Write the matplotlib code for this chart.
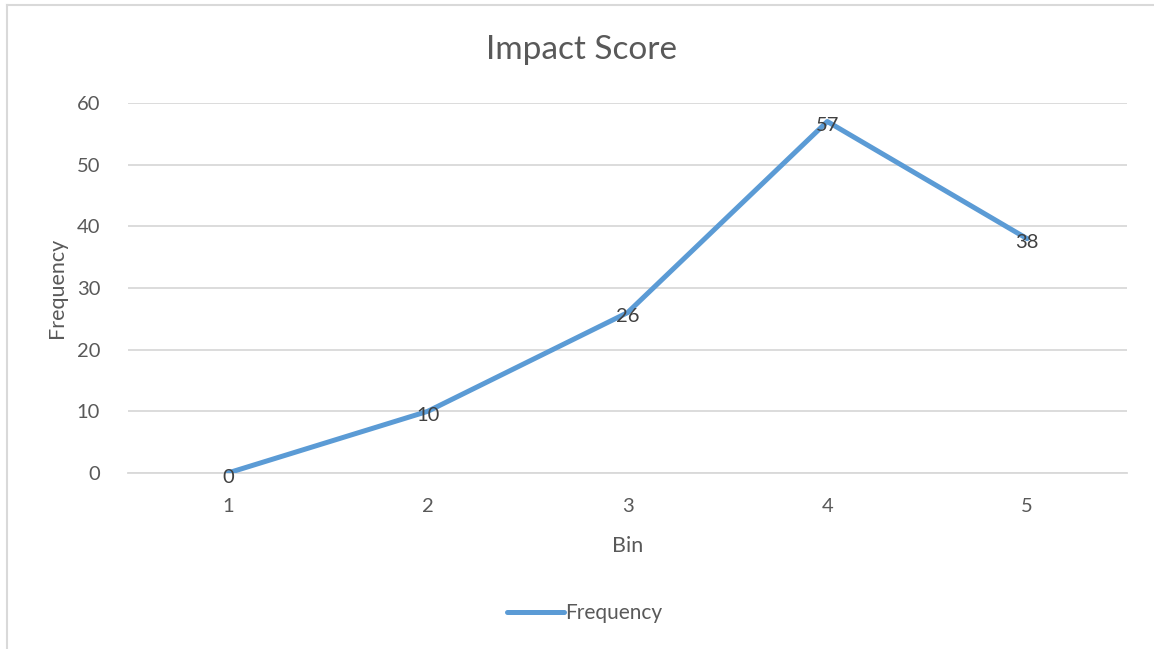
import matplotlib
matplotlib.use("Agg")
import matplotlib.pyplot as plt
from matplotlib.lines import Line2D

# chart data
bins = [1, 2, 3, 4, 5]
frequency = [0, 10, 26, 57, 38]
y_ticks = [0, 10, 20, 30, 40, 50, 60]

line_col = "#5B9BD5"
grid_col = "#D9D9D9"
text_col = "#595959"

plt.rcParams["font.family"] = ["Lato", "DejaVu Sans"]

W, H = 1154, 649
fig = plt.figure(figsize=(W / 100, H / 100), dpi=100)
ax = fig.add_axes([128 / W, 1 - 473 / H, (1127 - 128) / W, (473 - 103) / H])

ax.plot(bins, frequency, color=line_col, lw=3.6, solid_capstyle="round",
        solid_joinstyle="round", label="Frequency", zorder=3)
for x, y in zip(bins, frequency):
    ax.annotate(str(y), (x, y), xytext=(0, -3), textcoords="offset points",
                ha="center", va="center", fontsize=14.5, color="#404040", zorder=4)

ax.set_xlim(0.5, 5.5)
ax.set_ylim(0, 60)
ax.set_yticks(y_ticks)
ax.set_xticks(bins)
ax.grid(axis="y", color=grid_col, lw=1.3)
ax.set_axisbelow(True)
for s in ["top", "right", "left"]:
    ax.spines[s].set_visible(False)
ax.spines["bottom"].set_color(grid_col)
ax.spines["bottom"].set_linewidth(1.3)
ax.tick_params(axis="both", length=0, labelsize=14.5, colors=text_col)
ax.tick_params(axis="x", pad=18)
ax.tick_params(axis="y", pad=20)

ax.set_xlabel("Bin", fontsize=15.5, color=text_col, labelpad=15)
ax.set_ylabel("Frequency", fontsize=15.5, color=text_col, labelpad=7)
fig.text(581 / W, 1 - 50 / H, "Impact Score", ha="center", va="center",
         fontsize=24, color=text_col)

handle = Line2D([], [], color=line_col, lw=3.6, solid_capstyle="round")
fig.legend([handle], ["Frequency"], loc="center", bbox_to_anchor=(585 / W, 1 - 613 / H),
           frameon=False, fontsize=15, labelcolor=text_col, handlelength=2.7,
           handletextpad=0.1)

# chart border (left and top edges visible)
fig.add_artist(Line2D([7 / W, 7 / W], [0, 1 - 5 / H], color=grid_col, lw=1.5,
                      transform=fig.transFigure))
fig.add_artist(Line2D([7 / W, 1], [1 - 5 / H, 1 - 5 / H], color=grid_col, lw=1.5,
                      transform=fig.transFigure))

fig.savefig("out.png", dpi=100)
